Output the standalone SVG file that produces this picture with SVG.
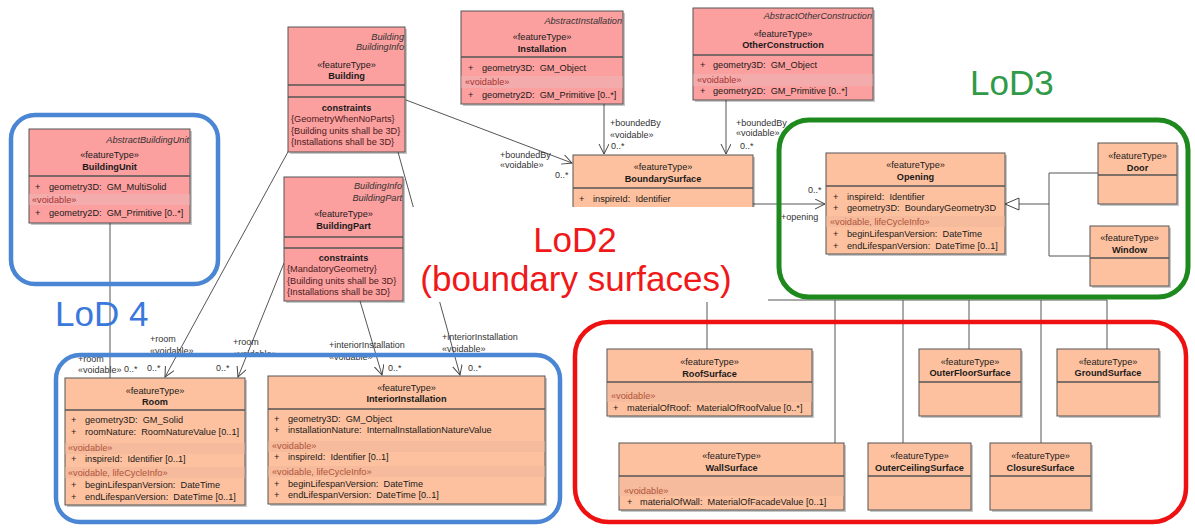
<svg xmlns="http://www.w3.org/2000/svg" width="1195" height="528" viewBox="0 0 1195 528">
<defs>
<style>
.t{font-family:'Liberation Sans',Arial,sans-serif;font-size:9.2px;fill:#1a1a1a;white-space:pre}
.c{text-anchor:middle}
.b{font-weight:bold}
.i{font-style:italic;text-anchor:end;fill:#333}
.v{fill:#a83232}
.vo{fill:#b0533a}
.k{fill:#4a1c1c}
.lb{fill:#333;font-size:9px}
.pk{fill:#fc9f9f;stroke:#555;stroke-width:1}
.or{fill:#fec19f;stroke:#555;stroke-width:1}
.sh{fill:#000;opacity:.22}
.sep{stroke:#555;stroke-width:1.3}
.bp{fill:#f4abab}
.bo{fill:#f6ba9c}
.cn{stroke:#555;stroke-width:1;fill:none}
.ar{marker-end:url(#oa)}
.big{font-family:'Liberation Sans',Arial,sans-serif;font-size:35px}
.fr{fill:none}
</style>
<marker id="oa" markerWidth="12" markerHeight="12" refX="10" refY="5" orient="auto" markerUnits="userSpaceOnUse">
<path d="M0,0 L10,5 L0,10" fill="none" stroke="#444" stroke-width="1"/>
</marker>
</defs>
<rect x="0" y="0" width="1195" height="528" fill="#fff"/>

<g id="connectors">
<line class="cn" x1="110" y1="223" x2="110" y2="378"/>
<text class="t lb" x="78" y="362">+room</text>
<text class="t lb" x="78" y="373">«voidable»</text>
<text class="t lb" x="124" y="372">0..*</text>

<line class="cn ar" x1="289" y1="150" x2="165" y2="377"/>
<text class="t lb" x="150" y="342">+room</text>
<text class="t lb" x="150" y="354">«voidable»</text>
<text class="t lb" x="147" y="371">0..*</text>

<line class="cn ar" x1="284" y1="263" x2="238" y2="377"/>
<text class="t lb" x="233" y="345">+room</text>
<text class="t lb" x="233" y="357">«voidable»</text>
<text class="t lb" x="216" y="371">0..*</text>

<line class="cn ar" x1="360" y1="301" x2="382" y2="375"/>
<text class="t lb" x="329" y="348">+interiorInstallation</text>
<text class="t lb" x="329" y="360">«voidable»</text>
<text class="t lb" x="388" y="371">0..*</text>

<line class="cn ar" x1="398" y1="152" x2="460" y2="375"/>
<text class="t lb" x="442" y="340">+interiorInstallation</text>
<text class="t lb" x="442" y="352">«voidable»</text>
<text class="t lb" x="468" y="371">0..*</text>

<line class="cn ar" x1="406" y1="100" x2="572" y2="163"/>
<text class="t lb" x="500" y="158">+boundedBy</text>
<text class="t lb" x="500" y="168">«voidable»</text>
<text class="t lb" x="555" y="178">0..*</text>

<line class="cn ar" x1="604" y1="104" x2="604" y2="154"/>
<text class="t lb" x="610" y="126">+boundedBy</text>
<text class="t lb" x="610" y="138">«voidable»</text>
<text class="t lb" x="611" y="149">0..*</text>

<line class="cn ar" x1="726" y1="100" x2="726" y2="154"/>
<text class="t lb" x="736" y="126">+boundedBy</text>
<text class="t lb" x="736" y="136">«voidable»</text>
<text class="t lb" x="740" y="149">0..*</text>

<line class="cn ar" x1="753" y1="204" x2="825" y2="204"/>
<text class="t lb" x="808" y="193">0..*</text>
<text class="t lb" x="781" y="220">+opening</text>

<polyline class="cn" points="1098,173 1049,173 1049,256 1090,256"/>
<line class="cn" x1="1049" y1="204" x2="1019" y2="204"/>
<polygon points="1005,204 1019,198 1019,210" fill="#fff" stroke="#444" stroke-width="1"/>

<line class="cn" x1="600" y1="300" x2="1107" y2="300"/>
<line class="cn" x1="707" y1="300" x2="707" y2="349"/>
<line class="cn" x1="835" y1="300" x2="835" y2="443"/>
<line class="cn" x1="903" y1="300" x2="903" y2="443"/>
<line class="cn" x1="969" y1="300" x2="969" y2="349"/>
<line class="cn" x1="1041" y1="300" x2="1041" y2="443"/>
<line class="cn" x1="1107" y1="300" x2="1107" y2="349"/>
</g>

<g id="frames">
<rect class="fr" x="11" y="115" width="207" height="169" rx="24" stroke="#4a86d4" stroke-width="4.5"/>
<rect class="fr" x="56" y="355" width="504" height="167" rx="24" stroke="#4a86d4" stroke-width="4.5"/>
<rect class="fr" x="779" y="120" width="409" height="177" rx="30" stroke="#1e8a1e" stroke-width="5"/>
<rect class="fr" x="575" y="322" width="611" height="200" rx="34" stroke="#ee1111" stroke-width="4.5"/>
<text class="big" x="55" y="326" fill="#3a78dc">LoD 4</text>
<text class="big" x="970" y="95" fill="#2f9a47">LoD3</text>
</g>

<g id="Building">
<rect class="sh" x="290" y="29" width="117" height="125"/>
<rect class="pk" x="288" y="27" width="117" height="125"/>
<text class="t i" x="404" y="40">Building</text>
<text class="t i" x="404" y="50">BuildingInfo</text>
<text class="t c" x="346.5" y="68">«featureType»</text>
<text class="t c b" x="346.5" y="79">Building</text>
<line class="sep" x1="288" y1="85" x2="405" y2="85"/>
<line class="sep" x1="288" y1="97" x2="405" y2="97"/>
<text class="t c b" x="346.5" y="111">constraints</text>
<text class="t k" x="291" y="122">{GeometryWhenNoParts}</text>
<text class="t k" x="291" y="133.5">{Building units shall be 3D}</text>
<text class="t k" x="291" y="145">{Installations shall be 3D}</text>
</g>

<g id="BuildingPart">
<rect class="sh" x="286" y="179" width="119" height="124"/>
<rect class="pk" x="284" y="177" width="119" height="124"/>
<text class="t i" x="402" y="189">BuildingInfo</text>
<text class="t i" x="402" y="201">BuildingPart</text>
<text class="t c" x="343.5" y="217">«featureType»</text>
<text class="t c b" x="343.5" y="229">BuildingPart</text>
<line class="sep" x1="284" y1="237" x2="403" y2="237"/>
<line class="sep" x1="284" y1="248" x2="403" y2="248"/>
<text class="t c b" x="343.5" y="261">constraints</text>
<text class="t k" x="287" y="272">{MandatoryGeometry}</text>
<text class="t k" x="287" y="283.5">{Building units shall be 3D}</text>
<text class="t k" x="287" y="295">{Installations shall be 3D}</text>
</g>

<g id="BuildingUnit">
<rect class="sh" x="31" y="131" width="161" height="94"/>
<rect class="pk" x="29" y="129" width="161" height="94"/>
<text class="t i" x="189" y="143">AbstractBuildingUnit</text>
<text class="t c" x="109.5" y="158">«featureType»</text>
<text class="t c b" x="109.5" y="170">BuildingUnit</text>
<line class="sep" x1="29" y1="176" x2="190" y2="176"/>
<text class="t" x="35" y="190">+</text>
<text class="t" x="49" y="190">geometry3D:  GM_MultiSolid</text>
<rect class="bp" x="29.5" y="194" width="160" height="11"/>
<text class="t v" x="32" y="203">«voidable»</text>
<text class="t" x="35" y="216">+</text>
<text class="t" x="49" y="216">geometry2D:  GM_Primitive [0..*]</text>
</g>

<g id="Installation">
<rect class="sh" x="463" y="13" width="162" height="93"/>
<rect class="pk" x="461" y="11" width="162" height="93"/>
<text class="t i" x="622" y="24">AbstractInstallation</text>
<text class="t c" x="542" y="40">«featureType»</text>
<text class="t c b" x="542" y="52">Installation</text>
<line class="sep" x1="461" y1="57" x2="623" y2="57"/>
<text class="t" x="468" y="71">+</text>
<text class="t" x="482" y="71">geometry3D:  GM_Object</text>
<rect class="bp" x="461.5" y="76" width="161" height="12"/>
<text class="t v" x="465" y="85">«voidable»</text>
<text class="t" x="468" y="98">+</text>
<text class="t" x="482" y="98">geometry2D:  GM_Primitive [0..*]</text>
</g>

<g id="OtherConstruction">
<rect class="sh" x="695" y="10" width="180" height="92"/>
<rect class="pk" x="693" y="8" width="180" height="92"/>
<text class="t i" x="872" y="19">AbstractOtherConstruction</text>
<text class="t c" x="783" y="37">«featureType»</text>
<text class="t c b" x="783" y="48">OtherConstruction</text>
<line class="sep" x1="693" y1="55" x2="873" y2="55"/>
<text class="t" x="700" y="68">+</text>
<text class="t" x="713" y="68">geometry3D:  GM_Object</text>
<rect class="bp" x="693.5" y="74" width="179" height="12"/>
<text class="t v" x="697" y="83">«voidable»</text>
<text class="t" x="700" y="94">+</text>
<text class="t" x="713" y="94">geometry2D:  GM_Primitive [0..*]</text>
</g>

<g id="BoundarySurface">
<rect class="sh" x="575" y="157" width="180" height="70"/>
<rect class="or" x="573" y="155" width="180" height="70"/>
<text class="t c" x="663" y="170">«featureType»</text>
<text class="t c b" x="663" y="182">BoundarySurface</text>
<line class="sep" x1="573" y1="188" x2="753" y2="188"/>
<text class="t" x="579" y="202">+</text>
<text class="t" x="593" y="202">inspireId:  Identifier</text>
</g>

<g id="Opening">
<rect class="sh" x="828" y="155" width="179" height="101"/>
<rect class="or" x="826" y="153" width="179" height="101"/>
<text class="t c" x="915.5" y="168">«featureType»</text>
<text class="t c b" x="915.5" y="180">Opening</text>
<line class="sep" x1="826" y1="186" x2="1005" y2="186"/>
<text class="t" x="833" y="200">+</text>
<text class="t" x="847" y="200">inspireId:  Identifier</text>
<text class="t" x="833" y="211">+</text>
<text class="t" x="847" y="211">geometry3D:  BoundaryGeometry3D</text>
<rect class="bo" x="826.5" y="216" width="178" height="11"/>
<text class="t vo" x="830" y="225">«voidable, lifeCycleInfo»</text>
<text class="t" x="833" y="237">+</text>
<text class="t" x="847" y="237">beginLifespanVersion:  DateTime</text>
<text class="t" x="833" y="249">+</text>
<text class="t" x="847" y="249">endLifespanVersion:  DateTime [0..1]</text>
</g>

<g id="Door">
<rect class="sh" x="1100" y="145" width="79" height="61"/>
<rect class="or" x="1098" y="143" width="79" height="61"/>
<text class="t c" x="1137.5" y="159">«featureType»</text>
<text class="t c b" x="1137.5" y="171">Door</text>
<line class="sep" x1="1098" y1="175" x2="1177" y2="175"/>
</g>

<g id="Window">
<rect class="sh" x="1092" y="228" width="79" height="60"/>
<rect class="or" x="1090" y="226" width="79" height="60"/>
<text class="t c" x="1129.5" y="241">«featureType»</text>
<text class="t c b" x="1129.5" y="253">Window</text>
<line class="sep" x1="1090" y1="258" x2="1169" y2="258"/>
</g>

<g id="Room">
<rect class="sh" x="67" y="380" width="180" height="127"/>
<rect class="or" x="65" y="378" width="180" height="127"/>
<text class="t c" x="155" y="394">«featureType»</text>
<text class="t c b" x="155" y="405">Room</text>
<line class="sep" x1="65" y1="410" x2="245" y2="410"/>
<text class="t" x="71" y="423">+</text>
<text class="t" x="85" y="423">geometry3D:  GM_Solid</text>
<text class="t" x="71" y="435">+</text>
<text class="t" x="85" y="435">roomNature:  RoomNatureValue [0..1]</text>
<rect class="bo" x="65.5" y="443" width="179" height="11"/>
<text class="t vo" x="68" y="451">«voidable»</text>
<text class="t" x="71" y="462">+</text>
<text class="t" x="85" y="462">inspireId:  Identifier [0..1]</text>
<rect class="bo" x="65.5" y="467" width="179" height="11"/>
<text class="t vo" x="68" y="476">«voidable, lifeCycleInfo»</text>
<text class="t" x="71" y="488">+</text>
<text class="t" x="85" y="488">beginLifespanVersion:  DateTime</text>
<text class="t" x="71" y="500">+</text>
<text class="t" x="85" y="500">endLifespanVersion:  DateTime [0..1]</text>
</g>

<g id="InteriorInstallation">
<rect class="sh" x="270" y="378" width="277" height="128"/>
<rect class="or" x="268" y="376" width="277" height="128"/>
<text class="t c" x="406.5" y="391">«featureType»</text>
<text class="t c b" x="406.5" y="402">InteriorInstallation</text>
<line class="sep" x1="268" y1="409" x2="545" y2="409"/>
<text class="t" x="274" y="422">+</text>
<text class="t" x="288" y="422">geometry3D:  GM_Object</text>
<text class="t" x="274" y="433">+</text>
<text class="t" x="288" y="433">installationNature:  InternalInstallationNatureValue</text>
<rect class="bo" x="268.5" y="441" width="276" height="11"/>
<text class="t vo" x="272" y="449">«voidable»</text>
<text class="t" x="274" y="460">+</text>
<text class="t" x="288" y="460">inspireId:  Identifier [0..1]</text>
<rect class="bo" x="268.5" y="466" width="276" height="11"/>
<text class="t vo" x="272" y="475">«voidable, lifeCycleInfo»</text>
<text class="t" x="274" y="487">+</text>
<text class="t" x="288" y="487">beginLifespanVersion:  DateTime</text>
<text class="t" x="274" y="498">+</text>
<text class="t" x="288" y="498">endLifespanVersion:  DateTime [0..1]</text>
</g>

<g id="RoofSurface">
<rect class="sh" x="609" y="351" width="205" height="67"/>
<rect class="or" x="607" y="349" width="205" height="67"/>
<text class="t c" x="709.5" y="365">«featureType»</text>
<text class="t c b" x="709.5" y="377">RoofSurface</text>
<line class="sep" x1="607" y1="382" x2="812" y2="382"/>
<rect class="bo" x="607.5" y="383" width="204" height="19"/>
<text class="t vo" x="611" y="399">«voidable»</text>
<text class="t" x="613" y="411">+</text>
<text class="t" x="627" y="411">materialOfRoof:  MaterialOfRoofValue [0..*]</text>
</g>

<g id="WallSurface">
<rect class="sh" x="621" y="445" width="225" height="67"/>
<rect class="or" x="619" y="443" width="225" height="67"/>
<text class="t c" x="731.5" y="459">«featureType»</text>
<text class="t c b" x="731.5" y="471">WallSurface</text>
<line class="sep" x1="619" y1="476" x2="844" y2="476"/>
<rect class="bo" x="619.5" y="477" width="224" height="19"/>
<text class="t vo" x="624" y="494">«voidable»</text>
<text class="t" x="627" y="505">+</text>
<text class="t" x="640" y="505">materialOfWall:  MaterialOfFacadeValue [0..1]</text>
</g>

<g id="OuterFloorSurface">
<rect class="sh" x="921" y="351" width="102" height="67"/>
<rect class="or" x="919" y="349" width="102" height="67"/>
<text class="t c" x="970" y="365">«featureType»</text>
<text class="t c b" x="970" y="376">OuterFloorSurface</text>
<line class="sep" x1="919" y1="382" x2="1021" y2="382"/>
</g>

<g id="GroundSurface">
<rect class="sh" x="1059" y="351" width="102" height="67"/>
<rect class="or" x="1057" y="349" width="102" height="67"/>
<text class="t c" x="1108" y="365">«featureType»</text>
<text class="t c b" x="1108" y="376">GroundSurface</text>
<line class="sep" x1="1057" y1="382" x2="1159" y2="382"/>
</g>

<g id="OuterCeilingSurface">
<rect class="sh" x="870" y="445" width="103" height="67"/>
<rect class="or" x="868" y="443" width="103" height="67"/>
<text class="t c" x="919.5" y="459">«featureType»</text>
<text class="t c b" x="919.5" y="471">OuterCeilingSurface</text>
<line class="sep" x1="868" y1="476" x2="971" y2="476"/>
</g>

<g id="ClosureSurface">
<rect class="sh" x="992" y="445" width="101" height="67"/>
<rect class="or" x="990" y="443" width="101" height="67"/>
<text class="t c" x="1040.5" y="459">«featureType»</text>
<text class="t c b" x="1040.5" y="471">ClosureSurface</text>
<line class="sep" x1="990" y1="476" x2="1091" y2="476"/>
</g>

<g id="LoD2">
<rect x="405" y="207" width="363" height="95" fill="#fff"/>
<text class="big" x="575" y="252" text-anchor="middle" fill="#f01818">LoD2</text>
<text class="big" x="576" y="291" text-anchor="middle" fill="#f01818">(boundary surfaces)</text>
</g>
</svg>
